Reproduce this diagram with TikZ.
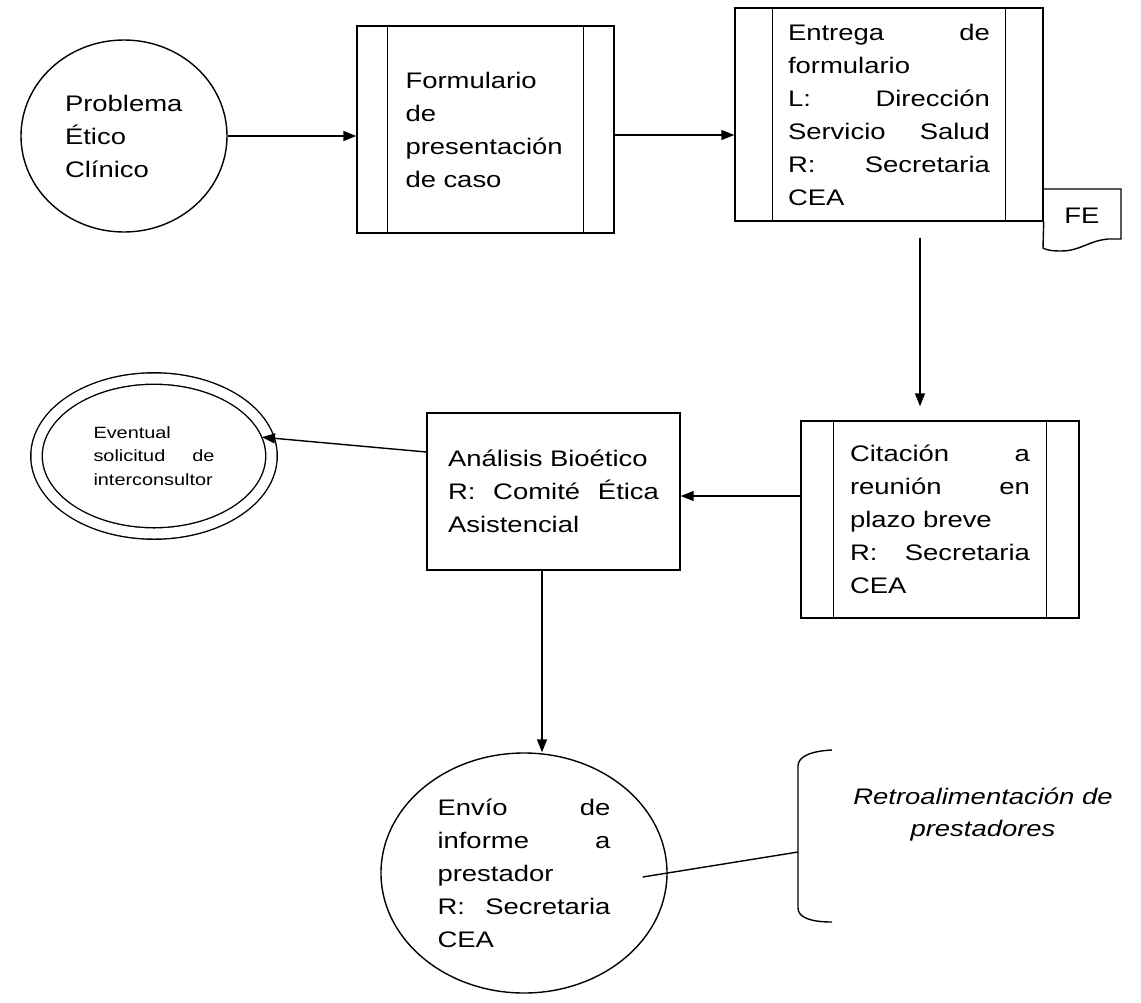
\documentclass[tikz,border=0pt]{standalone}
\usepackage{fontspec}
\setmainfont{Liberation Sans}[FakeStretch=1.22]
\usetikzlibrary{shapes.geometric, arrows.meta}

\begin{document}
\begin{tikzpicture}[x=1pt, y=-1pt, line width=1.4pt,
    every node/.style={font=\fontsize{22.5}{33}\selectfont, inner sep=0pt},
    proceso/.style={rectangle, draw, align=left},
    flecha/.style={-{Triangle[length=13pt, width=10pt]}}]
    \useasboundingbox (0,0) rectangle (1141,1002);

    \node[ellipse, draw, minimum width=206pt, minimum height=192pt, text width=118pt, align=left] (problema) at (124,136)
        {Problema\\ Ético\\ Clínico};
    \node[proceso, minimum width=257pt, minimum height=207pt, text width=160pt] (formulario) at (485.5,129.5)
        {Formulario\\ de\\ presentación\\ de caso};
    \node[proceso, minimum width=308pt, minimum height=213pt, text width=202pt] (entrega) at (889,114.5)
        {Entrega \hfill de\\ formulario\\ L: \hfill Dirección\\ Servicio \hfill Salud\\ R: \hfill Secretaria\\ CEA};
    \node[proceso, minimum width=278pt, minimum height=197pt, text width=180pt] (citacion) at (940,519.5)
        {Citación \hfill a\\ reunión \hfill en\\ plazo breve\\ R: \hfill Secretaria\\ CEA};
    \node[proceso, minimum width=253pt, minimum height=157pt, text width=211pt] (analisis) at (553.5,491.5)
        {Análisis Bioético\\ R: \hfill Comité \hfill Ética\\ Asistencial};
    \node[ellipse, draw, double, double distance=10pt, minimum width=235pt, minimum height=155pt,
        text width=121pt, align=left, font=\fontsize{16.3}{23.5}\selectfont] (eventual) at (154,456)
        {Eventual\\ solicitud \hfill de\\ interconsultor};
    \node[ellipse, draw, minimum width=286pt, minimum height=240pt, text width=173pt, align=left] (envio) at (524,873)
        {Envío \hfill de\\ informe \hfill a\\ prestador\\ R: \hfill Secretaria\\ CEA};
    \node[font=\itshape\fontsize{22.5}{32}\selectfont, align=center] (retro) at (983,815)
        {Retroalimentación de\\ prestadores};
    \node (fe) at (1082,216) {FE};

    % barras laterales de los procesos
    \foreach \n/\d in {formulario/31, entrega/38, citacion/33} {
        \draw ([xshift=\d]\n.north west) -- ([xshift=\d]\n.south west);
        \draw ([xshift=-\d]\n.north east) -- ([xshift=-\d]\n.south east);
    }

    % documento FE
    \draw (1043,189) -- (1121,189) -- (1121,239) -- (1108,239)
        .. controls (1088,241) and (1080,251) .. (1061,251)
        .. controls (1052,251) and (1046,250) .. (1043,248) -- (entrega.south east);

    % llave
    \coordinate (llave) at (798,852);
    \draw (832,750) .. controls (812,751) and (798,756) .. (798,766) -- (798,908)
        .. controls (798,918) and (812,922) .. (832,922);

    \draw[flecha] (problema.east) -- (problema.east -| formulario.west);
    \draw[flecha] ([yshift=-5.5pt]formulario.east) coordinate (f1) -- (f1 -| entrega.west);
    \draw[flecha, shorten <=16pt, shorten >=14pt] ([xshift=31pt]entrega.south) -- ([xshift=-20pt]citacion.north);
    \draw[flecha] ([yshift=23.5pt]citacion.west) coordinate (c1) -- (c1 -| analisis.east);
    \draw[flecha, shorten >=-7pt] ([yshift=39.5pt]analisis.west) -- (eventual.9);
    \draw[flecha] ([xshift=-11.5pt]analisis.south) coordinate (a1) -- (a1 |- envio.north);
    \draw ([xshift=-25pt, yshift=-4pt]envio.east) -- (llave);
\end{tikzpicture}
\end{document}
